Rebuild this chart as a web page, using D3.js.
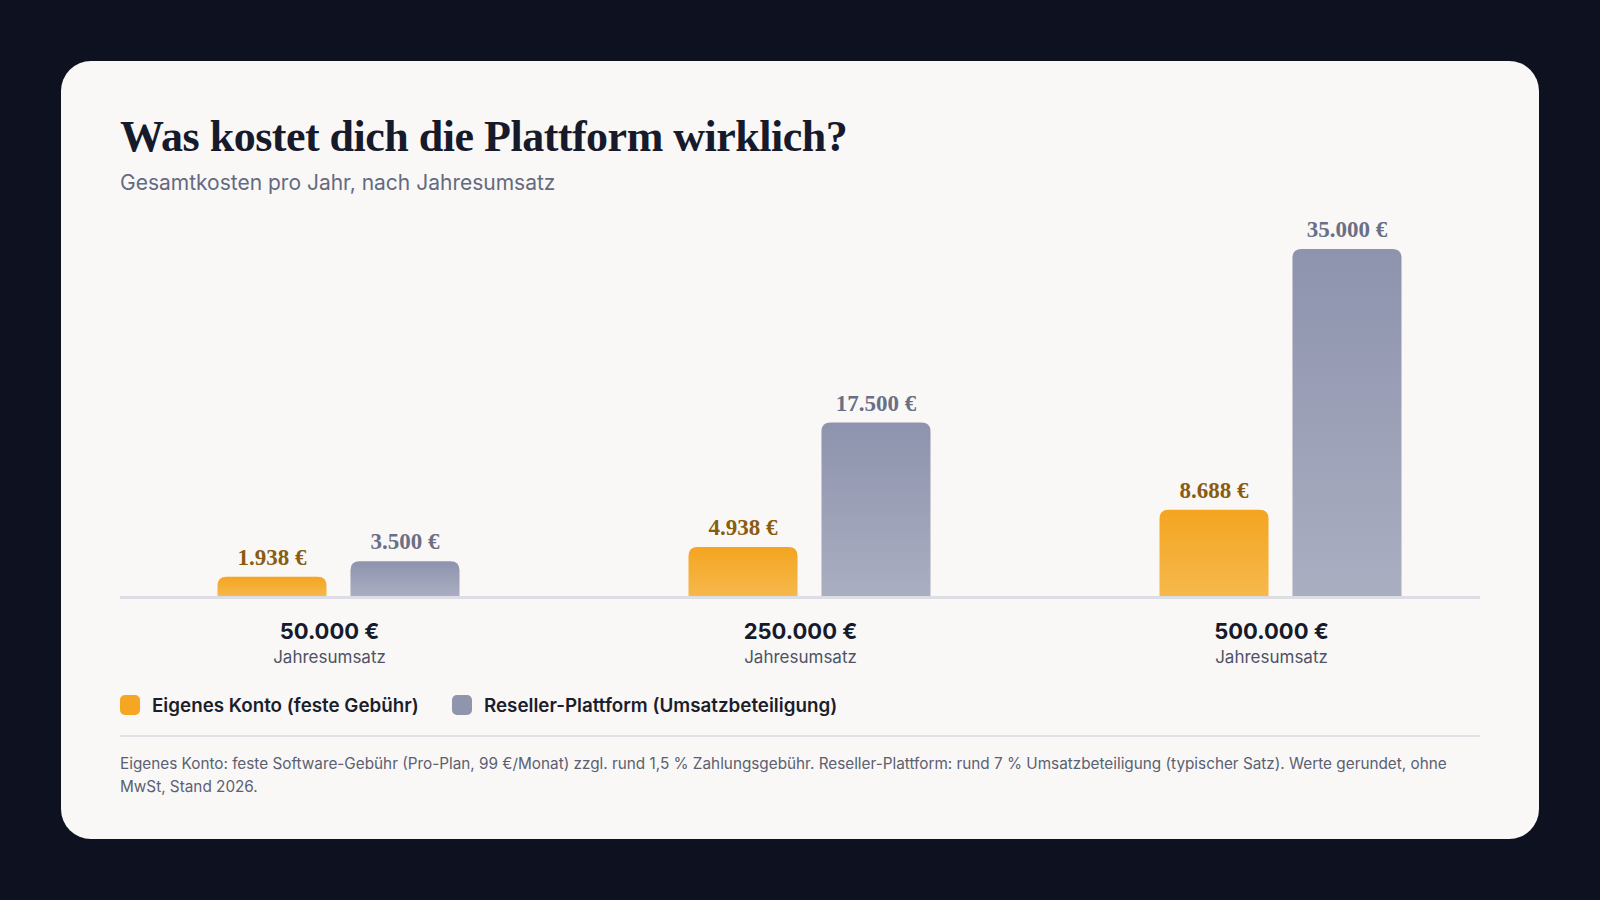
<!DOCTYPE html>
<html><head><meta charset="utf-8">
<script src="https://cdn.jsdelivr.net/npm/d3@7"></script>
<style>html,body{margin:0;padding:0;background:#0d1120;}</style>
</head><body>
<svg id="c" width="1600" height="900"></svg>
<script>
const categories = ["50.000 €", "250.000 €", "500.000 €"];
const seriesNames = ["Eigenes Konto (feste Gebühr)", "Reseller-Plattform (Umsatzbeteiligung)"];
const ownAccount = [1938, 4938, 8688];
const reseller = [3500, 17500, 35000];
const valueLabels = [["1.938 €","3.500 €"],["4.938 €","17.500 €"],["8.688 €","35.000 €"]];

const svg = d3.select("#c");
const sans = "Inter, 'Noto Sans', sans-serif";
const serif = "'Liberation Serif', 'DejaVu Serif', serif";
const defs = svg.append("defs");
function grad(id, a, b){
  const g = defs.append("linearGradient").attr("id",id).attr("x1",0).attr("y1",0).attr("x2",0).attr("y2",1);
  g.append("stop").attr("offset","0%").attr("stop-color",a);
  g.append("stop").attr("offset","100%").attr("stop-color",b);
}
grad("gO","#f4a520","#f6b84c");
grad("gG","#8e93ae","#aaaec1");

svg.append("rect").attr("x",61).attr("y",61).attr("width",1478).attr("height",778).attr("rx",30).attr("fill","#f9f8f6");

svg.append("text").attr("x",120).attr("y",151).attr("font-family",serif).attr("font-weight",700)
  .attr("font-size",44).attr("fill","#161a2b").attr("letter-spacing",-0.5).text("Was kostet dich die Plattform wirklich?");
svg.append("text").attr("x",120).attr("y",190).attr("font-family",sans).attr("font-size",21)
  .attr("fill","#646a80").text("Gesamtkosten pro Jahr, nach Jahresumsatz");

const base = 596;
const y = d3.scaleLinear().domain([0,35000]).range([base,249]);
const x0 = d3.scaleBand().domain(categories).range([94,1507]);
const x1 = d3.scaleBand().domain([0,1]).range([-121,121]).paddingInner(0.18);
const colors = ["url(#gO)","url(#gG)"];
const labelColors = ["#8a5c12","#6a6f86"];

svg.append("line").attr("x1",120).attr("x2",1480).attr("y1",base+1.5).attr("y2",base+1.5)
  .attr("stroke","#dcdde5").attr("stroke-width",3);

function barPath(x,w,top,bottom,r){
  r = Math.min(r,(bottom-top));
  return `M${x},${bottom}V${top+r}Q${x},${top} ${x+r},${top}H${x+w-r}Q${x+w},${top} ${x+w},${top+r}V${bottom}Z`;
}

categories.forEach((c,i)=>{
  const cx = x0(c)+x0.bandwidth()/2;
  const g = svg.append("g");
  [ownAccount[i], reseller[i]].forEach((v,k)=>{
    const bx = cx+9+x1(k);
    const w = x1.bandwidth();
    g.append("path").attr("d",barPath(bx,w,y(v),base,9)).attr("fill",colors[k]);
    g.append("text").attr("x",bx+w/2).attr("y",y(v)-12).attr("text-anchor","middle")
      .attr("font-family",serif).attr("font-weight",700).attr("font-size",23)
      .attr("fill",labelColors[k]).text(valueLabels[i][k]);
  });
  g.append("text").attr("x",cx).attr("y",639).attr("text-anchor","middle").attr("font-family",sans)
    .attr("font-weight",700).attr("font-size",22).attr("fill","#161a2b").text(c);
  g.append("text").attr("x",cx).attr("y",663).attr("text-anchor","middle").attr("font-family",sans)
    .attr("font-size",17).attr("fill","#4e5366").text("Jahresumsatz");
});

const legX = [120, 452];
seriesNames.forEach((s,k)=>{
  svg.append("rect").attr("x",legX[k]).attr("y",695).attr("width",20).attr("height",20).attr("rx",5)
    .attr("fill",k?"#9095ae":"#f5a623");
  svg.append("text").attr("x",legX[k]+32).attr("y",712).attr("font-family",sans).attr("font-weight",600)
    .attr("font-size",18.8).attr("fill","#1b1e2d").text(s);
});

svg.append("line").attr("x1",120).attr("x2",1480).attr("y1",736).attr("y2",736).attr("stroke","#e2e2e6").attr("stroke-width",2);
const foot = ["Eigenes Konto: feste Software-Gebühr (Pro-Plan, 99 €/Monat) zzgl. rund 1,5 % Zahlungsgebühr. Reseller-Plattform: rund 7 % Umsatzbeteiligung (typischer Satz). Werte gerundet, ohne",
  "MwSt, Stand 2026."];
foot.forEach((t,i)=>svg.append("text").attr("x",120).attr("y",769+i*23).attr("font-family",sans)
  .attr("font-size",15.3).attr("fill","#5b6072").text(t));
</script>
</body></html>
